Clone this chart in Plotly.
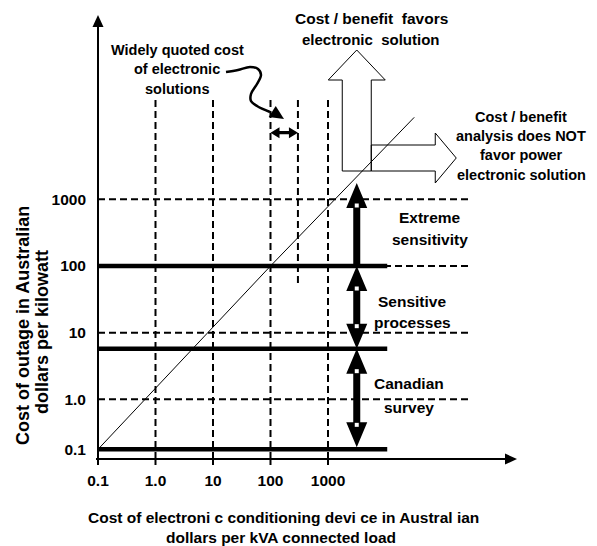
import numpy as np
import plotly.graph_objects as go

# ---------------- data ----------------
x_tick_values = [0.1, 1.0, 10, 100, 1000]
x_tick_labels = ["0.1", "1.0", "10", "100", "1000"]
y_tick_labels = ["0.1", "1.0", "10", "100", "1000"]
y_tick_pos = [-0.75, 0.0, 1.0, 2.0, 3.0]     # schematic axis positions (lowest decade compressed)

guide_values = [1.0, 10, 100, 1000]           # vertical dashed guides (A$/kVA)
guide_top = 4.49
quoted_cost = [100, 300]                      # widely quoted cost of electronic solutions
quoted_level = 4.0
quoted_guide_bottom = 1.745
dashed_levels = [0.0, 1.0, 2.0, 3.0]          # horizontal dashed guides
dashed_end_value = 10 ** 5.5
solid_levels = [-0.75, 0.76, 2.0]             # band boundaries
solid_end_value = 10 ** 4.03

band_names = [["Canadian", "survey"], ["Sensitive", "processes"], ["Extreme", "sensitivity"]]
band_low = [-0.72, 0.76, 2.0]
band_high = [0.76, 2.0, 3.245]
band_low_head = [True, True, False]
band_x_value = 3162

diag_x_values = [0.1, 100, 31600]
diag_y_pos = [-0.75, 2.0, 4.23]

# ---------------- geometry helpers ----------------
OFF = 8                      # page body margin of the browser
W, H = 597 - OFF, 546 - OFF
PL, PR, PT, PB = 90, 520, 12, 468    # plot area in page pixels
PXX = 57.5      # px per decade (x)
PXY = 66.67     # px per unit (y)
X0PX, Y2PX = 98, 266
XR = [-1 + (PL - X0PX) / PXX, -1 + (PR - X0PX) / PXX]
YR = [2 - (PB - Y2PX) / PXY, 2 + (Y2PX - PT) / PXY]
AXIS_Y = 2 - (459 - Y2PX) / PXY


def lx(v):
    return np.log10(v)


def pdata(px, py):
    return (-1 + (px - X0PX) / PXX, 2 + (Y2PX - py) / PXY)


def ppaper(px, py):
    return ((px - PL) / (PR - PL), (PB - py) / (PB - PT))


FONT = "Liberation Sans, Arial, sans-serif"

fig = go.Figure()
DASH = "7px,4px"


def seg_trace(xs, ys, width, dash=None):
    return go.Scatter(x=xs, y=ys, mode="lines", hoverinfo="skip",
                      line=dict(color="black", width=width, dash=dash))


# vertical dashed guides
for v in guide_values:
    fig.add_trace(seg_trace([lx(v), lx(v)], [guide_top, AXIS_Y], 2, DASH))
fig.add_trace(seg_trace([lx(quoted_cost[1])] * 2, [guide_top, quoted_guide_bottom], 2, DASH))

# horizontal dashed guides
for lv in dashed_levels:
    fig.add_trace(seg_trace([-1, lx(dashed_end_value)], [lv, lv], 2, DASH))
# solid band boundaries
for lv in solid_levels:
    fig.add_trace(seg_trace([-1, lx(solid_end_value)], [lv, lv], 4.5))

# break-even diagonal
fig.add_trace(seg_trace(list(lx(np.array(diag_x_values))), diag_y_pos, 1))


def poly(pts, fill=True):
    xs = [p[0] for p in pts] + [pts[0][0]]
    ys = [p[1] for p in pts] + [pts[0][1]]
    if fill:
        return go.Scatter(x=xs, y=ys, mode="lines", fill="toself", fillcolor="black",
                          line=dict(color="black", width=0), hoverinfo="skip")
    return go.Scatter(x=xs, y=ys, mode="lines", line=dict(color="black", width=1), hoverinfo="skip")


# axes (drawn as lines with arrowheads) and x ticks
tick_len = 6 / PXY
fig.add_trace(seg_trace([-1, -1], [AXIS_Y - tick_len, pdata(0, 26)[1]], 2))
fig.add_trace(seg_trace([pdata(96, 0)[0], pdata(506, 0)[0]], [AXIS_Y, AXIS_Y], 2))
tx, ty = [], []
for v in x_tick_values:
    tx += [lx(v), lx(v), None]
    ty += [AXIS_Y, AXIS_Y - tick_len, None]
fig.add_trace(seg_trace(tx, ty, 2))
ytip = pdata(0, 15)[1]
fig.add_trace(poly([(-1, ytip), (-1 + 5.5 / PXX, ytip - 12 / PXY), (-1 - 5.5 / PXX, ytip - 12 / PXY)]))
xtip = pdata(517, 0)[0]
fig.add_trace(poly([(xtip, AXIS_Y), (xtip - 12 / PXX, AXIS_Y + 5.5 / PXY), (xtip - 12 / PXX, AXIS_Y - 5.5 / PXY)]))

# band arrows
xc = lx(band_x_value)
sx, hx, hy = 3.5 / PXX, 10.5 / PXX, 25 / PXY
sq_x, sq_y = [], []
for lo, hi, lohead in zip(band_low, band_high, band_low_head):
    pts = [(xc, hi), (xc + hx, hi - hy), (xc + sx, hi - hy)]
    sq_x.append(xc); sq_y.append(hi - hy + 2.5 / PXY)
    if lohead:
        pts += [(xc + sx, lo + hy), (xc + hx, lo + hy), (xc, lo), (xc - hx, lo + hy), (xc - sx, lo + hy)]
        sq_x.append(xc); sq_y.append(lo + hy - 2.5 / PXY)
    else:
        pts += [(xc + sx, lo), (xc - sx, lo)]
    pts += [(xc - sx, hi - hy), (xc - hx, hi - hy)]
    fig.add_trace(poly(pts))
fig.add_trace(go.Scatter(x=sq_x, y=sq_y, mode="markers",
                         marker=dict(symbol="square", size=4, color="white", line=dict(width=0)),
                         hoverinfo="skip"))

# hollow arrows (cost / benefit directions), anchored above the top band arrow
ay = band_high[-1] + 12 / PXY


def rel(dxp, dyp):
    return (xc + dxp / PXX, ay + dyp / PXY)


up = [rel(-14.5, 0), rel(-14.5, 91), rel(-28.5, 91), rel(0, 121), rel(28.5, 91), rel(14.5, 91), rel(14.5, 0)]
right = [rel(14.5, 0), rel(14.5, 26), rel(78.5, 26), rel(78.5, 38), rel(99.5, 13), rel(78.5, -12), rel(78.5, 0)]
fig.add_trace(poly(up, fill=False))
fig.add_trace(poly(right, fill=False))

# widely quoted cost double arrow
qx0, qx1 = lx(quoted_cost[0]), lx(quoted_cost[1])
qs, qh, ql = 1.6 / PXY, 5.5 / PXY, 9 / PXX
qpts = [(qx0, quoted_level), (qx0 + ql, quoted_level + qh), (qx0 + ql, quoted_level + qs),
        (qx1 - ql, quoted_level + qs), (qx1 - ql, quoted_level + qh), (qx1, quoted_level),
        (qx1 - ql, quoted_level - qh), (qx1 - ql, quoted_level - qs), (qx0 + ql, quoted_level - qs),
        (qx0 + ql, quoted_level - qh)]
fig.add_trace(poly(qpts))

# curved pointer from label to the quoted range
ptr_px = [(226, 72), (238, 70), (250, 67), (258, 69), (261, 75), (257, 84), (251, 94),
          (251, 101), (257, 106), (270, 112)]
pp = [pdata(a, b) for a, b in ptr_px]
fig.add_trace(go.Scatter(x=[p[0] for p in pp], y=[p[1] for p in pp], mode="lines",
                         line=dict(color="black", width=2.5, shape="spline"), hoverinfo="skip"))
tip = np.array([284.0, 119.0]); base = np.array([270.0, 110.0])
d = (tip - base) / np.linalg.norm(tip - base); nrm = np.array([-d[1], d[0]])
hb = tip - d * 14
head = [pdata(*tip), pdata(*(hb + nrm * 6.5)), pdata(*(hb - nrm * 6.5))]
fig.add_trace(poly(head))

# ---------------- text ----------------
ann = []


def txt(s, px, py, size=14.5, angle=0):
    x, y = ppaper(px, py)
    ann.append(dict(text="<b>" + s + "</b>", x=x, y=y, xref="paper", yref="paper", showarrow=False,
                    xanchor="center", yanchor="middle", textangle=angle,
                    font=dict(family=FONT, size=size, color="black")))


for s, py in zip(["Widely quoted cost", "of electronic", "solutions"], [50, 69, 89]):
    txt(s, 177, py)
txt("Cost / benefit  favors", 371, 18, size=15.5)
txt("electronic  solution", 371, 40, size=15)
for s, py in zip(["Cost / benefit", "analysis does NOT", "favor power", "electronic solution"],
                 [117, 136, 155, 175]):
    txt(s, 521, py)
band_text_px = [(409, [383, 407]), (412, [301, 322]), (430, [218, 239])]
for names, (px, pys) in zip(band_names, band_text_px):
    for s, py in zip(names, pys):
        txt(s, px, py, size=15.5)
txt("Cost of electroni c conditioning devi ce in Austral ian", 283, 517, size=15.5)
txt("dollars per kVA connected load", 281, 537, size=15.5)
txt("Cost of outage in Australian", 23, 326, size=18, angle=-90)
txt("dollars per kilowatt", 42, 332, size=18, angle=-90)

fig.update_layout(
    width=W, height=H, autosize=False,
    margin=dict(l=PL - OFF, r=W - (PR - OFF), t=PT - OFF, b=H - (PB - OFF), pad=0),
    paper_bgcolor="white", plot_bgcolor="white",
    showlegend=False, annotations=ann,
    xaxis=dict(range=XR, tickmode="array", tickvals=list(lx(np.array(x_tick_values))),
               ticktext=["<b>%s</b>" % t for t in x_tick_labels],
               ticks="", showline=False, showgrid=False, zeroline=False,
               tickfont=dict(family=FONT, size=15.5, color="black"), ticklabelstandoff=1,
               fixedrange=True),
    yaxis=dict(range=YR, tickmode="array", tickvals=y_tick_pos,
               ticktext=["<b>%s</b>" % t for t in y_tick_labels],
               ticks="", showline=False, showgrid=False, zeroline=False,
               tickfont=dict(family=FONT, size=15.5, color="black"), ticklabelstandoff=3,
               fixedrange=True),
)

fig.write_html("out.html")
